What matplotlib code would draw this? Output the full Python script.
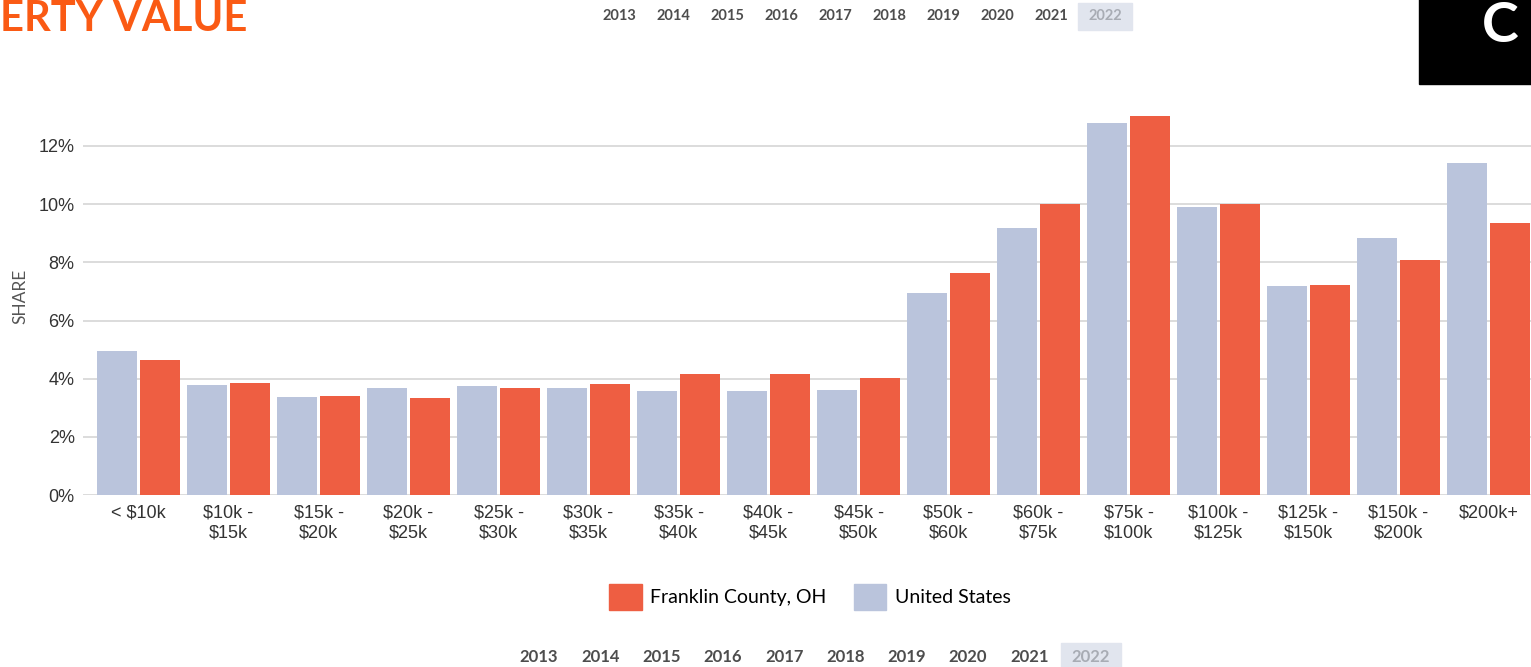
import numpy as np
import matplotlib.pyplot as plt
from matplotlib.patches import Rectangle, Patch

# value brackets and shares (%)
brackets = ['< $10k', '$10k -\n$15k', '$15k -\n$20k', '$20k -\n$25k', '$25k -\n$30k',
            '$30k -\n$35k', '$35k -\n$40k', '$40k -\n$45k', '$45k -\n$50k', '$50k -\n$60k',
            '$60k -\n$75k', '$75k -\n$100k', '$100k -\n$125k', '$125k -\n$150k',
            '$150k -\n$200k', '$200k+']
us_share = [4.95, 3.78, 3.38, 3.67, 3.76, 3.69, 3.57, 3.57, 3.61, 6.93, 9.19, 12.80, 9.91, 7.18, 8.82, 11.42]
fc_share = [4.64, 3.84, 3.40, 3.32, 3.67, 3.80, 4.15, 4.15, 4.01, 7.62, 9.99, 13.04, 10.00, 7.22, 8.08, 9.34]
yticks = [0, 2, 4, 6, 8, 10, 12]
years = [2013, 2014, 2015, 2016, 2017, 2018, 2019, 2020, 2021, 2022]
selected_year = 2022

fc_color = '#ee5e42'
us_color = '#bac4dc'
W, H = 1531, 667

fig = plt.figure(figsize=(W / 100, H / 100), dpi=100)
fig.patch.set_facecolor('white')

# main chart, placed in pixel terms
left, right, top, bottom = 83, W, 100, 495
ax = fig.add_axes([left / W, (H - bottom) / H, (right - left) / W, (bottom - top) / H])

x = np.arange(len(brackets))
bw = 0.455
ax.bar(x - 0.239, us_share, bw, color=us_color, zorder=2)
ax.bar(x + 0.239, fc_share, bw, color=fc_color, zorder=2)

ax.set_xlim((left - 138.5) / 90, (right - 138.5) / 90)
ax.set_ylim(0, (bottom - top) / ((bottom - 146) / 12))
ax.set_yticks(yticks)
ax.set_yticklabels([f'{t}%' for t in yticks])
ax.set_xticks(x)
ax.set_xticklabels([b.replace('$', r'\$') for b in brackets])
ax.grid(axis='y', color='#dcdcdc', linewidth=1.4, zorder=0)
for s in ax.spines.values():
    s.set_visible(False)
ax.tick_params(axis='y', length=0, pad=6, labelsize=13, labelcolor='#333333')
ax.tick_params(axis='x', length=0, pad=7, labelsize=13, labelcolor='#333333')
for lab in ax.get_xticklabels() + ax.get_yticklabels():
    lab.set_family('Liberation Sans')

fig.text(20 / W, 1 - 296 / H, 'SHARE', rotation=90, ha='center', va='center',
         fontsize=12.5, color='#555555', family='Lato')

# legend
handles = [Patch(color=fc_color, label='Franklin County, OH'),
           Patch(color=us_color, label='United States')]
fig.legend(handles=handles, loc='center', bbox_to_anchor=(810 / W, 1 - 597 / H), ncol=2,
           frameon=False, prop={'family': 'Lato', 'size': 14}, handlelength=1.65,
           handleheight=1.65, handletextpad=0.45, columnspacing=1.4)

# overlay for page decorations in pixel coords
ov = fig.add_axes([0, 0, 1, 1])
ov.set_xlim(0, W)
ov.set_ylim(H, 0)
ov.axis('off')
ov.patch.set_alpha(0)

ov.text(0, 31, 'ERTY VALUE', fontsize=30, fontweight='bold', color='#fa5a14',
        family='Lato', ha='left', va='baseline')

# black logo box
ov.add_patch(Rectangle((1419, -1), 120, 85, color='black'))
ov.text(1482, 42, 'C', fontsize=40, fontweight='bold', color='white',
        family='Lato', ha='left', va='baseline')

# year selectors
def year_row(x0, step, yc, size, box_w, box_h):
    for i, yr in enumerate(years):
        cx = x0 + i * step
        sel = yr == selected_year
        if sel:
            ov.add_patch(Rectangle((cx - box_w / 2, yc - box_h / 2), box_w, box_h,
                                   color='#e1e5ee', zorder=1))
        ov.text(cx, yc, str(yr), ha='center', va='center', fontsize=size,
                fontweight='bold', family='Lato',
                color='#a8acb4' if sel else '#4d4d4d', zorder=2)

year_row(619, 54, 16, 10.5, 54, 27)
year_row(539, 61.3, 657, 12, 60, 28)

fig.savefig('out.png', dpi=100)
